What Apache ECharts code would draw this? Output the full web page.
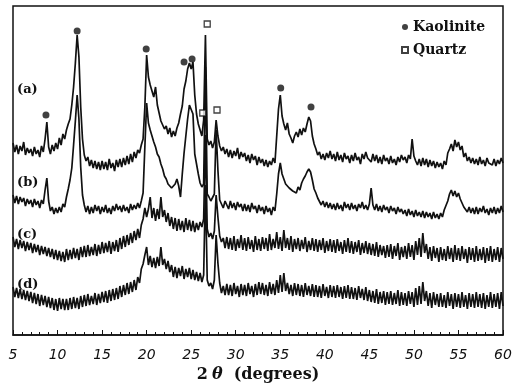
<!DOCTYPE html>
<html>
<head>
<meta charset="utf-8">
<script src="https://cdn.jsdelivr.net/npm/echarts@6/dist/echarts.min.js"></script>
<style>
  html, body { margin: 0; padding: 0; background: #fff; }
  #chart { width: 515px; height: 386px; }
</style>
</head>
<body>
<div id="chart"></div>
<script>
// scan: 5-60 deg, step 0.2 deg (276 points per pattern)
const angleStart = 5;
const angleStep = 0.2;

// intensities (arbitrary units, stacked offsets)
const patternA = [
  192, 183, 190, 181, 189, 184, 193, 180, 187, 182,
  186, 179, 188, 181, 185, 178, 189, 183, 196, 213,
  188, 181, 190, 184, 192, 186, 197, 190, 201, 196,
  205, 211, 216, 230, 248, 272, 300, 278, 228, 196,
  180, 174, 178, 169, 175, 167, 174, 166, 173, 165,
  174, 166, 173, 165, 176, 167, 172, 164, 175, 168,
  176, 168, 177, 170, 179, 171, 181, 173, 183, 177,
  185, 182, 190, 196, 228, 280, 258, 250, 244, 238,
  248, 230, 222, 214, 216, 206, 209, 201, 207, 198,
  204, 199, 207, 212, 221, 229, 246, 254, 266, 272,
  266, 273, 240, 221, 211, 205, 199, 215, 300, 196,
  190, 194, 187, 193, 215, 199, 189, 184, 188, 181,
  186, 178, 185, 177, 184, 179, 187, 176, 183, 178,
  182, 174, 180, 172, 181, 175, 179, 170, 178, 172,
  176, 169, 175, 168, 174, 170, 177, 172, 199, 226,
  240, 219, 211, 205, 212, 201, 197, 192, 199, 203,
  198, 206, 200, 207, 203, 211, 218, 214, 199, 191,
  186, 180, 183, 176, 181, 175, 182, 177, 184, 176,
  181, 174, 183, 175, 180, 173, 182, 176, 179, 172,
  180, 174, 182, 175, 178, 171, 181, 176, 183, 177,
  179, 173, 181, 174, 180, 172, 178, 171, 180, 174,
  177, 171, 179, 172, 176, 170, 178, 173, 180, 175,
  178, 172, 180, 176, 196, 179, 174, 170, 176, 169,
  177, 170, 176, 168, 175, 169, 174, 167, 173, 168,
  172, 166, 174, 170, 182, 186, 191, 184, 195, 188,
  193, 185, 189, 178, 182, 174, 178, 172, 177, 171,
  176, 170, 178, 171, 175, 169, 177, 172, 174, 170,
  176, 169, 175, 171, 177, 172
];
const patternB = [
  140, 132, 139, 131, 138, 133, 137, 129, 136, 131,
  135, 128, 136, 130, 134, 127, 135, 131, 145, 157,
  134, 124, 128, 121, 127, 122, 128, 123, 131, 128,
  138, 146, 155, 167, 190, 214, 240, 216, 168, 140,
  130, 123, 129, 121, 128, 122, 130, 124, 129, 121,
  128, 123, 130, 122, 127, 121, 129, 124, 131, 125,
  129, 123, 130, 124, 128, 122, 131, 125, 130, 126,
  132, 127, 134, 142, 188, 232, 212, 205, 199, 193,
  188, 181, 178, 171, 166, 159, 156, 151, 150, 147,
  149, 151, 156, 149, 138, 161, 182, 199, 216, 230,
  232, 221, 181, 171, 161, 152, 148, 151, 268, 141,
  138, 134, 136, 141, 205, 165, 135, 133, 127, 134,
  133, 126, 134, 127, 132, 125, 133, 128, 131, 124,
  131, 124, 130, 123, 132, 126, 129, 122, 130, 124,
  128, 121, 129, 123, 127, 120, 128, 124, 141, 161,
  172, 161, 156, 151, 152, 147, 149, 144, 146, 142,
  148, 145, 152, 156, 159, 163, 166, 163, 155, 146,
  142, 137, 136, 130, 134, 128, 133, 127, 132, 126,
  131, 125, 132, 126, 130, 124, 133, 127, 131, 125,
  132, 126, 130, 124, 131, 127, 133, 126, 130, 125,
  131, 147, 130, 125, 131, 124, 129, 123, 130, 125,
  128, 122, 129, 124, 127, 121, 128, 123, 126, 121,
  125, 119, 126, 120, 124, 118, 125, 119, 123, 118,
  124, 117, 123, 118, 122, 116, 123, 117, 121, 116,
  122, 118, 125, 123, 134, 141, 145, 139, 144, 138,
  142, 136, 138, 128, 130, 123, 128, 122, 127, 121,
  128, 121, 127, 123, 129, 122, 126, 120, 127, 122,
  128, 121, 127, 122, 129, 123
];
const patternC = [
  98, 88, 96, 86, 95, 87, 94, 84, 93, 85,
  92, 82, 91, 83, 90, 80, 89, 81, 88, 79,
  87, 78, 86, 76, 85, 75, 84, 74, 83, 73,
  86, 75, 85, 76, 87, 77, 86, 75, 88, 78,
  89, 78, 90, 79, 88, 80, 91, 79, 90, 81,
  93, 82, 92, 83, 94, 81, 93, 84, 95, 83,
  97, 86, 99, 88, 100, 90, 102, 92, 104, 95,
  106, 97, 110, 116, 127, 118, 126, 138, 117, 127,
  114, 126, 116, 138, 118, 125, 113, 122, 109, 118,
  106, 117, 104, 116, 105, 114, 103, 117, 105, 115,
  104, 114, 103, 112, 105, 113, 108, 116, 200, 106,
  98, 102, 96, 104, 140, 118, 99, 93, 97, 87,
  98, 86, 97, 85, 99, 84, 96, 87, 100, 85,
  97, 84, 98, 86, 95, 83, 99, 85, 96, 84,
  98, 86, 97, 84, 101, 85, 96, 87, 103, 86,
  98, 84, 105, 87, 97, 85, 99, 83, 96, 86,
  97, 84, 95, 86, 98, 83, 94, 85, 97, 84,
  96, 83, 95, 85, 97, 82, 94, 84, 96, 83,
  95, 82, 96, 84, 93, 81, 95, 83, 97, 82,
  94, 81, 93, 83, 95, 80, 92, 82, 94, 81,
  92, 80, 91, 79, 93, 78, 90, 80, 89, 77,
  90, 78, 91, 76, 89, 79, 92, 75, 88, 78,
  89, 76, 92, 78, 90, 75, 94, 80, 97, 78,
  102, 82, 91, 76, 88, 74, 89, 77, 87, 73,
  88, 75, 86, 74, 89, 76, 87, 73, 90, 75,
  87, 74, 89, 76, 86, 72, 88, 75, 87, 73,
  89, 74, 86, 75, 88, 72, 87, 74, 89, 73,
  86, 75, 88, 73, 87, 76
];
const patternD = [
  48, 38, 47, 37, 46, 36, 45, 35, 44, 34,
  43, 32, 42, 31, 41, 29, 40, 30, 39, 28,
  38, 27, 37, 25, 36, 24, 37, 26, 36, 25,
  36, 25, 37, 26, 38, 27, 37, 26, 39, 28,
  40, 29, 41, 30, 39, 31, 42, 30, 41, 32,
  43, 33, 44, 32, 45, 34, 46, 35, 47, 36,
  49, 38, 50, 40, 52, 41, 53, 43, 55, 45,
  58, 52, 66, 71, 80, 88, 70, 79, 68, 77,
  67, 78, 69, 88, 70, 76, 66, 74, 63, 70,
  58, 68, 57, 67, 59, 69, 56, 66, 58, 67,
  56, 65, 55, 63, 54, 62, 53, 60, 150, 55,
  49, 52, 46, 55, 100, 72, 52, 42, 49, 40,
  51, 40, 50, 39, 52, 41, 49, 38, 51, 40,
  50, 39, 52, 41, 49, 38, 51, 40, 53, 41,
  52, 40, 50, 39, 53, 41, 51, 40, 55, 42,
  60, 43, 62, 44, 52, 41, 50, 39, 52, 40,
  51, 39, 50, 38, 52, 40, 49, 39, 51, 38,
  50, 38, 49, 37, 51, 39, 48, 37, 50, 38,
  49, 37, 50, 38, 48, 36, 49, 37, 50, 36,
  48, 36, 47, 35, 49, 37, 46, 35, 48, 34,
  45, 33, 44, 32, 46, 31, 43, 32, 44, 30,
  43, 31, 44, 30, 42, 31, 45, 29, 43, 30,
  42, 29, 44, 31, 43, 28, 47, 30, 49, 31,
  53, 34, 44, 29, 42, 27, 43, 30, 41, 28,
  42, 28, 40, 27, 43, 29, 41, 26, 42, 28,
  41, 27, 43, 28, 40, 26, 42, 28, 41, 27,
  43, 28, 41, 27, 42, 26, 40, 28, 43, 27,
  41, 28, 42, 26, 43, 29
];

// phase markers above the peaks of pattern (a)
const kaoliniteAngles = [8.7, 12.2, 19.95, 24.2, 25.1, 35.05, 38.45];
const kaoliniteHeights = [220, 304, 286, 273, 276, 247, 228];
const quartzAngles = [26.8, 26.3, 27.9];
const quartzHeights = [311, 222, 225];

const patternLabels = ["(a)", "(b)", "(c)", "(d)"];

const toPoints = (arr) => arr.map((v, i) => [+(angleStart + i * angleStep).toFixed(1), v]);
const pairs = (xs, ys) => xs.map((x, i) => [x, ys[i]]);

const chart = echarts.init(document.getElementById("chart"));

const lineSeries = [patternA, patternB, patternC, patternD].map((arr, i) => ({
  name: patternLabels[i],
  type: "line",
  data: toPoints(arr),
  showSymbol: false,
  symbol: "none",
  lineStyle: { color: "#111", width: 1.7 },
  silent: true,
  z: 2,
}));

const labelY = [90, 183, 235, 285];

const option = {
  animation: false,
  backgroundColor: "#fff",
  grid: {
    left: 13, right: 12, top: 6, bottom: 51,
    outerBoundsMode: "none",
    show: true, borderColor: "#111", borderWidth: 1.5,
  },
  legend: {
    orient: "vertical",
    left: 396, top: 15,
    itemGap: 9,
    itemWidth: 6, itemHeight: 6,
    data: ["Kaolinite", "Quartz"],
    textStyle: {
      fontFamily: "DejaVu Serif", fontWeight: "bold",
      fontSize: 14, color: "#111",
    },
  },
  xAxis: {
    type: "value",
    min: 5, max: 60, interval: 5,
    axisLine: { lineStyle: { color: "#111", width: 1.5 } },
    axisTick: { inside: true, length: 5, lineStyle: { color: "#111" } },
    minorTick: { show: true, splitNumber: 5, length: 3, lineStyle: { color: "#111" } },
    splitLine: { show: false },
    axisLabel: {
      margin: 13,
      fontFamily: "DejaVu Sans", fontStyle: "italic",
      fontSize: 14, color: "#111",
    },
    name: "{a|2}{t|θ}{a|  (degrees)}",
    nameLocation: "middle",
    nameGap: 32,
    nameTextStyle: {
      rich: {
        a: { fontFamily: "DejaVu Serif", fontWeight: "bold", fontSize: 16, color: "#111" },
        t: { fontFamily: "DejaVu Serif", fontStyle: "italic", fontWeight: "bold", fontSize: 16, color: "#111", padding: [0, 0, 0, 4] },
      },
    },
  },
  yAxis: {
    type: "value",
    min: 0, max: 329,
    show: false,
  },
  series: [
    ...lineSeries,
    {
      name: "Kaolinite",
      type: "scatter",
      data: pairs(kaoliniteAngles, kaoliniteHeights),
      symbol: "circle",
      symbolSize: 7,
      itemStyle: { color: "#111" },
      z: 5,
    },
    {
      name: "Quartz",
      type: "scatter",
      data: pairs(quartzAngles, quartzHeights),
      symbol: "rect",
      symbolSize: 6,
      itemStyle: { color: "#fff", borderColor: "#111", borderWidth: 1.3 },
      z: 5,
    },
  ],
  graphic: patternLabels.map((t, i) => ({
    type: "text",
    left: 17,
    top: labelY[i] - 7,
    style: {
      text: t,
      font: "bold 13px 'DejaVu Serif'",
      fill: "#111",
    },
    z: 10,
  })),
};

chart.setOption(option);
</script>
</body>
</html>
